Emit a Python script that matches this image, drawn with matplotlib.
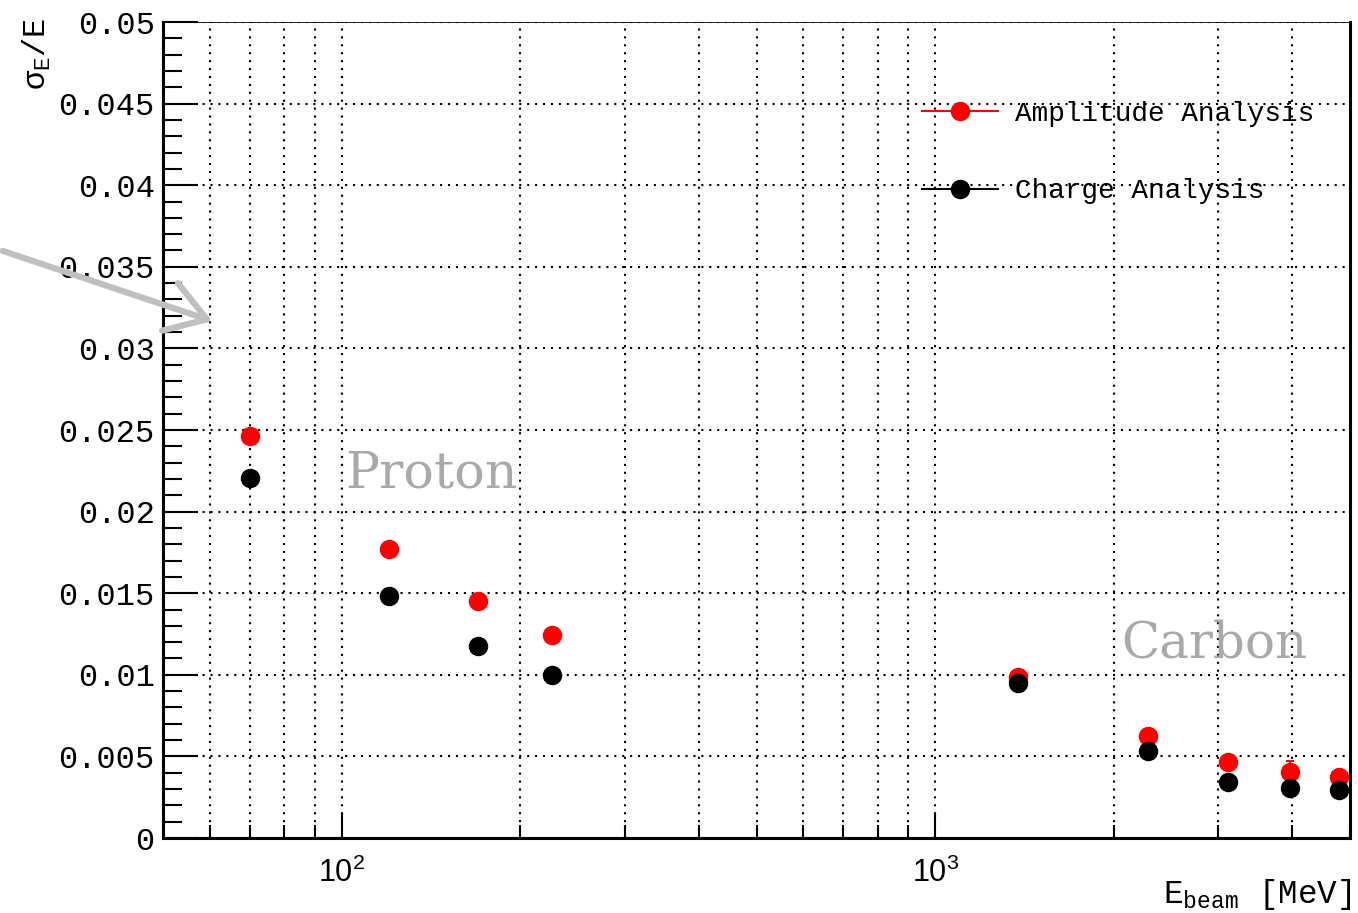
import numpy as np
import matplotlib
matplotlib.use("Agg")
import matplotlib.pyplot as plt
from matplotlib.lines import Line2D
from matplotlib.ticker import FixedLocator, FixedFormatter, FuncFormatter, NullFormatter

plt.rcParams['mathtext.fontset'] = 'custom'
plt.rcParams['mathtext.rm'] = 'Liberation Mono'
plt.rcParams['mathtext.it'] = 'Liberation Mono'
plt.rcParams['mathtext.bf'] = 'Liberation Mono'

# ---- data ----
energy = [70, 120, 170, 226, 1380, 2280, 3120, 3960, 4800]
amplitude = [0.02463, 0.01771, 0.01452, 0.01244, 0.00987, 0.00625, 0.00466, 0.00404, 0.00374]
amplitude_err = [0.0003, 0.0003, 0.0003, 0.0003, 0.0003, 0.0003, 0.0003, 0.00065, 0.0003]
charge = [0.02206, 0.01483, 0.01176, 0.00999, 0.0095, 0.00533, 0.00343, 0.00306, 0.00294]
charge_err = [0.0002, 0.0002, 0.0002, 0.0002, 0.0002, 0.0002, 0.0002, 0.0002, 0.0002]
series_labels = ["Amplitude Analysis", "Charge Analysis"]
series_colors = ['#ff0000', 'black']
y_ticks = [0, 0.005, 0.01, 0.015, 0.02, 0.025, 0.03, 0.035, 0.04, 0.045, 0.05]
y_ticklabels = ["0", "0.005", "0.01", "0.015", "0.02", "0.025", "0.03", "0.035", "0.04", "0.045", "0.05"]
x_major = [100, 1000]
x_minor = [60, 70, 80, 90, 200, 300, 400, 500, 600, 700, 800, 900, 2000, 3000, 4000, 5000]

W, H = 1358, 913
fig = plt.figure(figsize=(W / 100, H / 100), dpi=100)
ax = fig.add_axes([163 / W, 1 - 838 / H, (1350 - 163) / W, (838 - 22) / H])

ax.set_xscale('log')
ax.set_xlim(50, 5000)
ax.set_ylim(0, 0.05)

mono = 'Liberation Mono'

ax.errorbar(energy, amplitude, yerr=amplitude_err, fmt='o', color=series_colors[0], ms=13,
            elinewidth=1.5, capsize=3, capthick=1.5, zorder=4)
ax.errorbar(energy, charge, yerr=charge_err, fmt='o', color=series_colors[1], ms=13,
            elinewidth=1.5, capsize=3, capthick=1.5, zorder=4)

# ticks
ax.yaxis.set_major_locator(FixedLocator(y_ticks))
ax.yaxis.set_major_formatter(FixedFormatter(y_ticklabels))
ax.yaxis.set_minor_locator(FixedLocator(np.arange(0, 0.0501, 0.001)))
ax.xaxis.set_major_locator(FixedLocator(x_major))
ax.xaxis.set_minor_locator(FixedLocator(x_minor))
ax.xaxis.set_major_formatter(FuncFormatter(lambda v, p: r'$\mathdefault{10^{%d}}$' % round(np.log10(v))))
ax.xaxis.set_minor_formatter(NullFormatter())

ax.tick_params(axis='y', which='major', direction='in', length=25, width=1.5, pad=6,
               labelsize=23, left=True, right=False)
ax.tick_params(axis='y', which='minor', direction='in', length=13.5, width=1.5, left=True, right=False)
ax.tick_params(axis='x', which='major', direction='in', length=18, width=1.5, pad=14,
               labelsize=22, bottom=True, top=False)
ax.tick_params(axis='x', which='minor', direction='in', length=9.5, width=1.5, bottom=True, top=False)
for lab in ax.get_yticklabels():
    lab.set_fontfamily(mono)
for lab in ax.get_xticklabels():
    lab.set_fontfamily('Liberation Sans')

# grid
gridkw = dict(color='black', linestyle=(0, (1, 2.8)), linewidth=1.5)
ax.yaxis.grid(True, which='major', **gridkw)
ax.xaxis.grid(True, which='major', **gridkw)
ax.xaxis.grid(True, which='minor', **gridkw)
ax.set_axisbelow(True)

for s in ['left', 'bottom', 'right']:
    ax.spines[s].set_linewidth(2.2)
ax.spines['top'].set_linewidth(0.6)

# labels
fig.text(37 / W, 1 - 18 / H, r'$\sigma_{\mathrm{E}}$/E', rotation=90, ha='center', va='top',
         fontsize=23, family=mono)
fig.text(1352 / W, 1 - 903 / H, r'E$_{\mathrm{beam}}$ [MeV]', ha='right', va='baseline',
         fontsize=23.5, family=mono)

# annotations
ax.text((345 - 163) / (1350 - 163), (838 - 487) / 816, 'Proton', transform=ax.transAxes,
        ha='left', va='baseline', fontsize=36.5, family='DejaVu Serif', color='#a9a9a9')
ax.text((1121 - 163) / (1350 - 163), (838 - 657) / 816, 'Carbon', transform=ax.transAxes,
        ha='left', va='baseline', fontsize=36, family='DejaVu Serif', color='#a9a9a9')

fig.patches.append(matplotlib.patches.FancyArrowPatch(
    (0 / W, 1 - 250 / H), (215 / W, 1 - 322 / H), transform=fig.transFigure,
    arrowstyle='->,head_length=1.4,head_width=0.9', color='#c0c0c0', linewidth=4.5,
    mutation_scale=20))

handles = [Line2D([], [], color=c, marker='o', ms=13, lw=1.5) for c in series_colors]
leg = ax.legend(handles, series_labels, loc='upper left', bbox_to_anchor=(922 / W, 1 - 101 / H),
                bbox_transform=fig.transFigure,
                frameon=False, prop={'family': mono, 'size': 20}, handlelength=2.75,
                handletextpad=0.6, labelspacing=1.85, borderpad=0, borderaxespad=0)

fig.savefig('out.png', dpi=100)
